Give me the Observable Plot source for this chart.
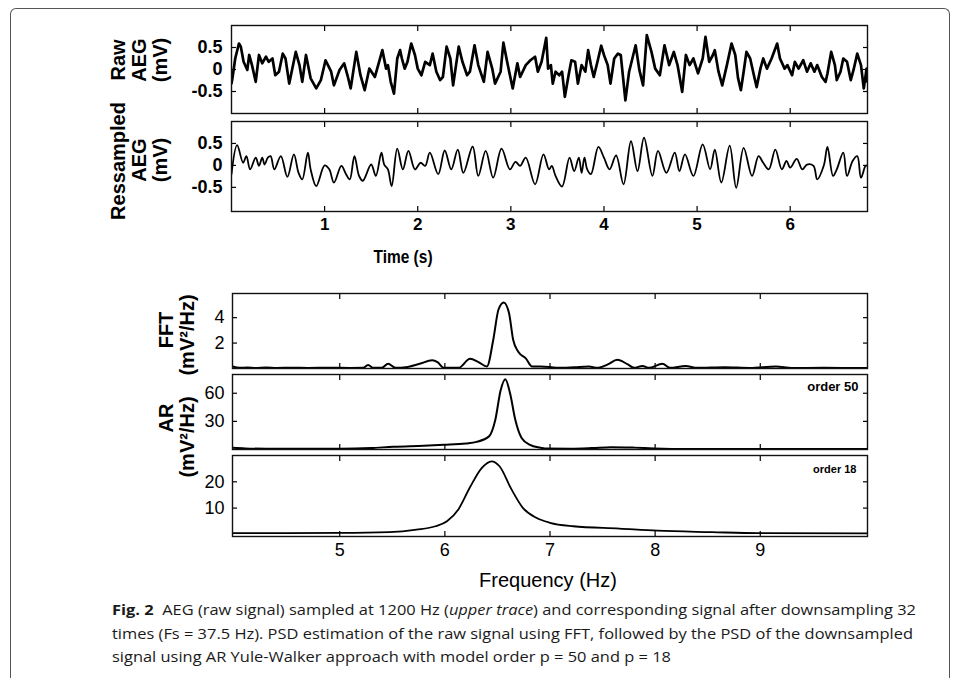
<!DOCTYPE html>
<html><head><meta charset="utf-8">
<script src="https://cdn.jsdelivr.net/npm/d3@7"></script>
<script src="https://cdn.jsdelivr.net/npm/@observablehq/plot@0.6"></script>
<style>
body{margin:0;background:#fff;}
#fig{position:relative;width:960px;height:682px;overflow:hidden;font-family:"Liberation Sans",Arial,Helvetica,sans-serif;color:#000;}
.lab{position:absolute;font-weight:bold;white-space:nowrap;transform:translate(-50%,-50%) rotate(-90deg);font-size:20px;line-height:1;}
.hl{position:absolute;white-space:nowrap;transform:translate(-50%,-50%);line-height:1;}
#border{position:absolute;left:10px;top:8px;width:940px;height:670px;border:1px solid #555;border-bottom:none;border-radius:6px 6px 0 0;box-sizing:border-box;}
</style></head><body><div id="fig"><div id="border"></div></div><script>
// ---- tick labels ----
const timeTicks = [1, 2, 3, 4, 5, 6];
const aegTicks = [-0.5, 0, 0.5];
const freqTicks = [5, 6, 7, 8, 9];
const fftTicks = [2, 4];
const ar50Ticks = [30, 60];
const ar18Ticks = [10, 20];

// ---- raw AEG (1200 Hz) ----
const rawTime = [0.00,0.01,0.04,0.08,0.10,0.13,0.17,0.19,0.22,0.26,0.295,0.33,0.37,0.40,0.44,0.47,0.51,0.55,0.58,0.62,0.69,0.73,0.76,0.80,0.85,0.91,0.96,1.01,1.07,1.10,1.16,1.21,1.25,1.28,1.34,1.385,1.43,1.48,1.54,1.62,1.66,1.68,1.71,1.745,1.78,1.81,1.83,1.86,1.89,1.93,1.97,2.00,2.04,2.08,2.13,2.16,2.20,2.24,2.27,2.31,2.35,2.38,2.44,2.48,2.53,2.56,2.61,2.65,2.71,2.75,2.80,2.83,2.89,2.92,2.96,2.99,3.02,3.07,3.10,3.16,3.21,3.26,3.29,3.33,3.38,3.40,3.43,3.45,3.48,3.52,3.55,3.58,3.62,3.65,3.69,3.72,3.76,3.80,3.83,3.86,3.89,3.93,3.97,4.00,4.04,4.07,4.11,4.15,4.18,4.23,4.27,4.34,4.38,4.42,4.46,4.51,4.55,4.60,4.65,4.70,4.75,4.79,4.84,4.88,4.92,4.96,5.01,5.06,5.09,5.13,5.17,5.19,5.23,5.27,5.32,5.37,5.41,5.44,5.47,5.50,5.53,5.57,5.61,5.64,5.68,5.71,5.75,5.80,5.86,5.89,5.94,5.97,6.02,6.05,6.09,6.14,6.18,6.22,6.26,6.29,6.34,6.38,6.40,6.44,6.48,6.50,6.54,6.57,6.61,6.65,6.68,6.72,6.76,6.79,6.82,6.83];
const rawValue = [-0.32,-0.20,0.25,0.59,0.52,0.175,-0.01,0.33,0.10,-0.28,0.33,0.14,0.29,0.175,0.25,-0.13,-0.05,0.36,0.25,-0.32,0.40,0.10,-0.28,0.33,-0.20,-0.43,-0.24,0.21,-0.05,-0.36,-0.01,0.14,-0.17,-0.43,0.40,-0.13,-0.47,0.02,-0.17,0.44,0.02,0.10,-0.28,-0.55,0.25,0.44,0.25,0.02,0.175,0.59,0.33,0.02,-0.13,0.175,0.10,0.36,-0.05,-0.24,-0.17,0.52,0.25,-0.36,0.52,0.175,-0.13,-0.05,0.55,0.10,-0.28,0.40,0.02,-0.32,-0.05,0.61,0.175,-0.13,-0.43,0.14,-0.17,0.10,0.21,0.29,-0.05,0.175,0.72,0.02,0.10,-0.32,-0.05,-0.13,-0.05,-0.62,-0.13,0.21,0.175,-0.32,0.10,-0.05,0.44,0.10,-0.17,0.175,0.54,0.33,0.10,-0.32,0.25,0.36,0.33,-0.70,-0.05,0.55,-0.01,-0.36,0.78,0.40,0.02,-0.13,0.55,0.10,0.40,0.10,-0.51,0.33,0.10,0.25,-0.09,0.25,0.74,0.175,0.33,0.44,-0.05,-0.36,0.10,0.59,0.33,-0.20,-0.47,-0.05,0.40,0.25,-0.13,-0.40,0.02,0.25,0.02,0.25,0.59,0.25,0.02,0.10,-0.13,0.175,0.02,0.21,-0.05,0.14,-0.05,0.10,-0.17,-0.28,-0.09,0.40,0.10,-0.24,-0.05,0.25,0.175,-0.24,-0.01,0.36,0.10,-0.43,0.02,-0.28];

// ---- resampled AEG (37.5 Hz) ----
const resTime = [0.00,0.06,0.125,0.16,0.20,0.26,0.295,0.33,0.355,0.39,0.42,0.46,0.53,0.60,0.67,0.72,0.76,0.82,0.85,0.91,1.00,1.05,1.10,1.18,1.23,1.27,1.32,1.37,1.41,1.50,1.55,1.61,1.64,1.68,1.72,1.78,1.84,1.90,1.97,2.03,2.08,2.13,2.22,2.29,2.36,2.43,2.49,2.59,2.65,2.73,2.81,2.90,2.99,3.05,3.10,3.16,3.26,3.35,3.41,3.44,3.48,3.55,3.63,3.68,3.73,3.76,3.79,3.82,3.86,3.94,4.00,4.06,4.13,4.21,4.29,4.36,4.43,4.52,4.58,4.67,4.76,4.81,4.87,4.96,5.06,5.14,5.19,5.26,5.35,5.42,5.50,5.59,5.66,5.71,5.77,5.84,5.91,5.96,6.00,6.07,6.13,6.18,6.25,6.29,6.36,6.40,6.46,6.50,6.57,6.61,6.67,6.72,6.76,6.81,6.83];
const resValue = [-0.20,0.46,0.06,0.21,-0.09,0.175,-0.01,0.175,0.02,0.175,0.21,-0.09,0.21,-0.26,0.25,-0.17,-0.32,0.29,-0.09,-0.47,0.00,-0.09,-0.39,-0.01,-0.20,-0.32,0.21,-0.24,-0.35,0.02,-0.24,0.29,0.02,-0.09,-0.47,0.38,-0.09,0.33,-0.09,0.06,-0.01,0.29,-0.20,0.34,-0.09,0.36,-0.17,0.43,-0.24,0.33,-0.28,0.38,-0.09,0.08,-0.01,0.175,-0.43,0.25,-0.09,-0.01,-0.24,-0.48,0.175,-0.13,0.175,-0.17,0.175,-0.09,-0.20,0.42,0.175,-0.09,0.23,-0.43,0.55,-0.13,0.63,-0.24,0.33,-0.17,0.29,-0.13,0.25,-0.24,0.48,-0.09,0.36,-0.39,0.45,-0.51,0.40,-0.24,0.21,0.06,-0.09,0.36,-0.09,0.10,-0.05,0.15,-0.09,0.02,-0.01,-0.32,-0.01,0.42,-0.24,-0.09,0.29,-0.24,0.10,0.21,-0.28,-0.01,-0.01];

// ---- PSD by FFT ----
const fftFreq = [3.98,4.05,4.12,4.20,4.30,4.40,4.55,4.70,4.90,5.10,5.22,5.27,5.32,5.40,5.46,5.53,5.63,5.76,5.88,5.93,5.99,6.13,6.24,6.32,6.40,6.46,6.51,6.56,6.61,6.65,6.70,6.77,6.83,6.91,7.00,7.08,7.23,7.37,7.45,7.55,7.64,7.74,7.80,7.88,7.94,8.07,8.14,8.29,8.40,8.66,8.90,9.15,9.30,9.60,10.02];
const fftPower = [0.16,0.05,0.08,0.04,0.07,0.04,0.06,0.04,0.06,0.04,0.05,0.27,0.05,0.05,0.37,0.05,0.10,0.37,0.64,0.50,0.05,0.05,0.77,0.50,0.16,2.24,4.64,5.20,4.37,2.24,1.30,0.80,0.16,0.16,0.12,0.05,0.10,0.16,0.05,0.32,0.69,0.32,0.05,0.20,0.05,0.37,0.05,0.20,0.05,0.10,0.04,0.16,0.04,0.05,0.04];

// ---- PSD by AR Yule-Walker, order 50 ----
const ar50Freq = [3.98,4.10,4.30,4.60,5.00,5.30,5.51,5.80,5.99,6.20,6.30,6.42,6.48,6.53,6.575,6.62,6.67,6.73,6.81,6.91,6.95,7.20,7.40,7.58,7.80,7.99,8.35,9.00,10.02];
const ar50Power = [1.8,1.2,0.8,0.7,0.7,1.5,3.0,4.0,5.0,6.5,8.1,14,31.7,63,75,60,31.7,12.3,5.0,1.9,1.0,0.8,1.5,2.5,2.0,1.2,0.6,0.5,0.5];

// ---- PSD by AR Yule-Walker, order 18 ----
const ar18Freq = [3.98,4.50,5.00,5.47,5.73,5.91,6.02,6.13,6.24,6.35,6.445,6.52,6.63,6.74,6.87,7.00,7.22,7.66,8.02,8.54,8.98,10.02];
const ar18Power = [0.5,0.5,0.55,0.86,1.8,3.1,5.0,9.6,18,25.2,27.8,25.9,17.4,10.2,6.3,4.4,3.1,2.2,1.4,0.86,0.47,0.4];

const zip = (xs, ys) => xs.map((x, i) => ({x, y: ys[i]}));
const fig = document.getElementById("fig");
const FONT = "'Liberation Sans', Arial, Helvetica, sans-serif";
const NARROW = "'Liberation Sans Narrow', 'Arial Narrow', 'Liberation Sans', Arial, sans-serif";
const none = () => "";
const aegFmt = d => d === 0 ? "0" : (d < 0 ? "-" + Math.abs(d) : String(d));

function panel(o) {
  const mt = o.mt ?? 3, mb = o.mb ?? 3;
  const marks = [
    Plot.line(o.data, {x: "x", y: "y", stroke: "#000", strokeWidth: o.sw, curve: o.curve, clip: true}),
    Plot.axisY({anchor: "left", ticks: o.yTicks, tickSize: -5, tickPadding: o.yPad ?? 13, tickFormat: o.yFmt ?? (d => String(d)), label: null, fontSize: o.yFs, fontWeight: o.yFw, fontFamily: FONT, strokeWidth: 1.2}),
    Plot.axisY({anchor: "right", ticks: o.yTicks, tickSize: -5, tickFormat: none, label: null, strokeWidth: 1.2}),
    Plot.axisX({anchor: "top", ticks: o.xTicks, tickSize: -5, tickFormat: none, label: null, strokeWidth: 1.2}),
    Plot.axisX({anchor: "bottom", ticks: o.xTicks, tickSize: -5, tickPadding: o.xPad ?? 11, tickFormat: o.xLabels ? (d => String(d)) : none, label: null, fontSize: o.xFs, fontWeight: o.xFw, fontFamily: o.xFont ?? FONT, strokeWidth: 1.2}),
    Plot.frame({stroke: "#111", strokeWidth: 1.4})
  ];
  if (o.note) marks.push(Plot.text([o.note], {text: d => d, frameAnchor: "top-right", textAnchor: "end", lineAnchor: "top", dx: o.noteDx, dy: o.noteDy, fontSize: o.noteFs, fontWeight: "bold", fontFamily: NARROW, fill: "#000"}));
  const p = Plot.plot({
    width: 960, height: o.y1 - o.y0 + mt + mb,
    marginLeft: o.left ?? 232, marginRight: 93, marginTop: mt, marginBottom: mb,
    x: {domain: o.xDomain}, y: {domain: o.yDomain},
    style: {background: "transparent", fontFamily: FONT, color: "#000", overflow: "visible"},
    marks
  });
  p.style.position = "absolute"; p.style.left = "0px"; p.style.top = (o.y0 - mt) + "px";
  fig.appendChild(p);
}

const tDom = [0, 6.83], fDom = [3.98, 10.02];
panel({y0: 25, y1: 113, data: zip(rawTime, rawValue), xDomain: tDom, yDomain: [-1, 1], xTicks: timeTicks, yTicks: aegTicks, yFmt: aegFmt, yFs: 18, yFw: "bold", sw: 2.7, curve: "linear", left: 231, yPad: 14});
panel({y0: 121, y1: 211, mb: 30, data: zip(resTime, resValue), xDomain: tDom, yDomain: [-1.05, 1], xTicks: timeTicks, yTicks: aegTicks, yFmt: aegFmt, yFs: 18, yFw: "bold", sw: 1.8, curve: "catmull-rom", xLabels: true, xFs: 17, xFw: "bold", xFont: NARROW, xPad: 11, left: 231, yPad: 14});
panel({y0: 293, y1: 368, data: zip(fftFreq, fftPower), xDomain: fDom, yDomain: [0, 5.9], xTicks: freqTicks, yTicks: fftTicks, yFs: 18, sw: 2, curve: "monotone-x"});
panel({y0: 374, y1: 449, data: zip(ar50Freq, ar50Power), xDomain: fDom, yDomain: [0, 80], xTicks: freqTicks, yTicks: ar50Ticks, yFs: 18, sw: 2, curve: "monotone-x", note: "order 50", noteFs: 13, noteDx: -9, noteDy: 7});
panel({y0: 455, y1: 536, mb: 30, data: zip(ar18Freq, ar18Power), xDomain: fDom, yDomain: [-0.8, 30], xTicks: freqTicks, yTicks: ar18Ticks, yFs: 18, sw: 1.8, curve: "monotone-x", xLabels: true, xFs: 18, xPad: 12, note: "order 18", noteFs: 11, noteDx: -11, noteDy: 10});

// ---- axis titles ----
function lab(text, cx, cy, size, cls = "lab", extra = "") {
  const d = document.createElement("div");
  d.className = cls; d.textContent = text;
  d.style.left = cx + "px"; d.style.top = cy + "px";
  if (size) d.style.fontSize = size + "px";
  if (extra) d.style.cssText += extra;
  fig.appendChild(d);
}
lab("Raw", 118, 60); lab("AEG", 139, 60); lab("(mV)", 160, 60);
lab("Ressampled", 118, 161); lab("AEG", 139, 160); lab("(mV)", 160, 160);
lab("FFT", 166, 330); lab("(mV²/Hz)", 187, 335);
lab("AR", 166, 418); lab("(mV²/Hz)", 187, 437);
lab("Time (s)", 403, 257, 18, "hl", "font-weight:bold;transform:translate(-50%,-50%) scaleX(0.86);");
lab("Frequency (Hz)", 548, 580, 20, "hl");

// ---- caption ----
const NS = "http://www.w3.org/2000/svg";
const cap = document.createElementNS(NS, "svg");
cap.setAttribute("width", 960); cap.setAttribute("height", 90);
cap.style.cssText = "position:absolute;left:0;top:596px;";
fig.appendChild(cap);
const capLines = [
  {y: 19, parts: [["Fig. 2", "bold"], ["\u00a0\u00a0AEG (raw signal) sampled at 1200 Hz (", ""], ["upper trace", "italic"], [") and corresponding signal after downsampling 32", ""]]},
  {y: 43, parts: [["times (Fs = 37.5 Hz). PSD estimation of the raw signal using FFT, followed by the PSD of the downsampled", ""]]},
  {y: 66, parts: [["signal using AR Yule-Walker approach with model order p = 50 and p = 18", ""]]}
];
const capTexts = capLines.map(L => {
  const t = document.createElementNS(NS, "text");
  t.setAttribute("x", 112); t.setAttribute("y", L.y);
  t.setAttribute("font-family", "'Open Sans', 'Noto Sans', sans-serif");
  t.setAttribute("font-size", 15); t.setAttribute("fill", "#1a1a1a");
  for (const [s, st] of L.parts) {
    const ts = document.createElementNS(NS, "tspan");
    ts.textContent = s;
    if (st === "bold") ts.setAttribute("font-weight", "bold");
    if (st === "italic") ts.setAttribute("font-style", "italic");
    t.appendChild(ts);
  }
  cap.appendChild(t);
  return t;
});
// uniform horizontal squeeze so the second line spans like the reference
const w2 = capTexts[1].getComputedTextLength();
const k = 801 / w2;
capTexts.forEach(t => { const w = t.getComputedTextLength(); t.setAttribute("textLength", w * k); t.setAttribute("lengthAdjust", "spacingAndGlyphs"); });
</script></body></html>
